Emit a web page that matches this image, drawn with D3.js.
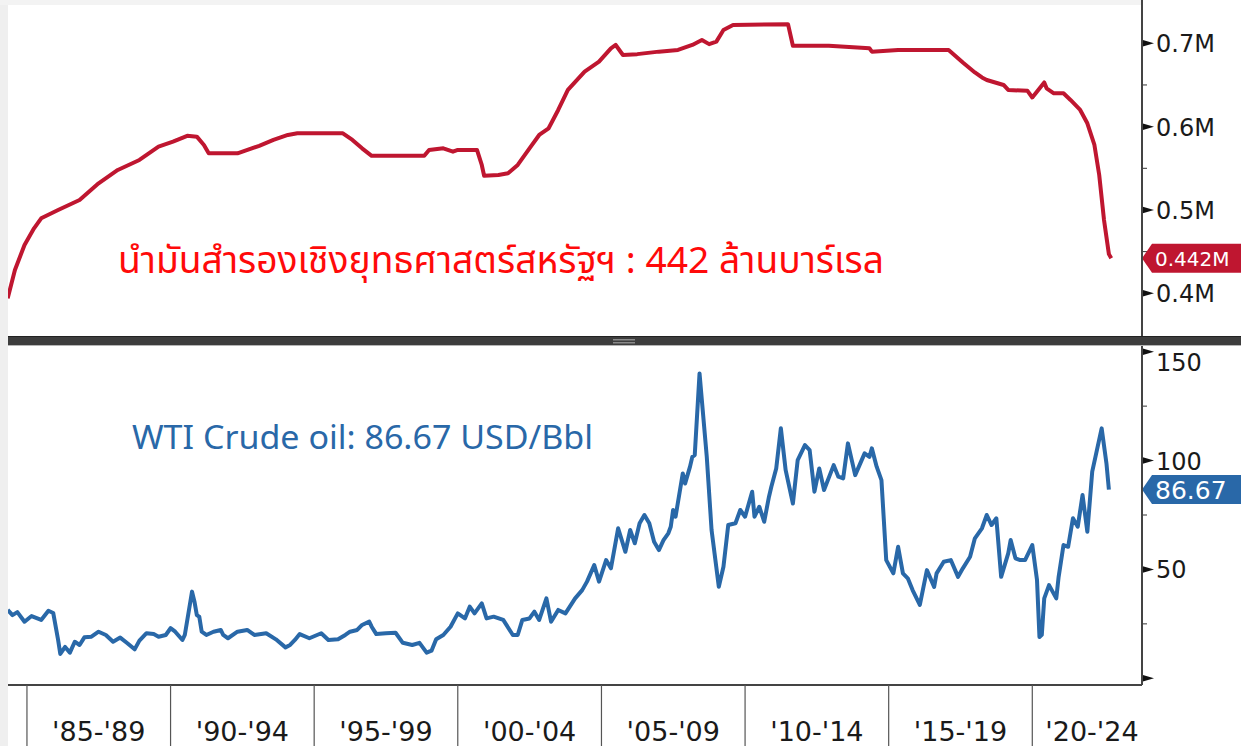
<!DOCTYPE html>
<html>
<head>
<meta charset="utf-8">
<script src="https://cdn.jsdelivr.net/npm/d3@7"></script>
<style>
  html, body { margin: 0; padding: 0; background: #fff; }
  svg { display: block; }
  .axis-label { font-family: "DejaVu Sans", Verdana, sans-serif; fill: #1a1a1a; }
</style>
</head>
<body>
<div id="chart"></div>
<script>
// US Strategic Petroleum Reserve, million barrels (monthly)
const sprDates = ["1984-05","1984-08","1984-12","1985-04","1985-07","1986-02","1986-11","1987-07","1988-03","1988-12",
  "1989-08","1990-02","1990-08","1990-12","1991-03","1991-05","1992-05","1993-02","1993-08","1994-02",
  "1994-06","1996-01","1996-05","1996-09","1997-01","1998-11","1999-01","1999-07","1999-11","2000-01",
  "2000-09","2000-11","2000-12","2001-06","2001-10","2002-02","2002-07","2002-11","2003-03","2003-07",
  "2003-11","2004-06","2004-12","2005-05","2005-07","2005-10","2006-04","2007-01","2007-09","2008-03",
  "2008-07","2008-10","2009-01","2009-04","2009-08","2011-07","2011-09","2012-12","2014-05","2014-06",
  "2015-05","2017-02","2017-08","2018-01","2018-04","2018-06","2019-01","2019-03","2019-11","2020-01",
  "2020-06","2020-07","2020-10","2021-02","2021-05","2021-09","2021-12","2022-03","2022-05","2022-07",
  "2022-09","2022-10"]
const sprValues = [394,428,458,478,490,500,512,532,548,560,
  576,582,589,588,578,568,568,577,584,590,
  592,592,584,574,565,565,572,574,570,572,
  572,554,541,542,544,554,574,590,598,620,
  644,666,678,694,698,686,687,690,692,698,
  704,699,702,716,722,723,697,697,694,690,
  692,692,677,665,659,656,650,644,643,635,
  653,646,640,640,632,620,604,578,542,488,
  447,442]

// WTI crude, USD per barrel
const wtiDates = ["1984-05","1984-07","1984-09","1984-12","1985-03","1985-07","1985-10","1985-12","1986-02","1986-03",
  "1986-05","1986-07","1986-09","1986-11","1987-01","1987-04","1987-07","1987-10","1988-01","1988-04",
  "1988-07","1988-10","1988-12","1989-03","1989-06","1989-08","1989-11","1990-01","1990-03","1990-06",
  "1990-07","1990-10","1990-11","1990-12","1991-01","1991-02","1991-04","1991-07","1991-10","1991-11",
  "1992-01","1992-05","1992-09","1992-12","1993-05","1993-09","1994-01","1994-03","1994-05","1994-07",
  "1994-11","1995-04","1995-07","1995-11","1996-02","1996-04","1996-07","1996-09","1996-12","1997-01",
  "1997-03","1997-07","1997-11","1998-02","1998-06","1998-09","1998-12","1999-02","1999-04","1999-07",
  "1999-10","2000-01","2000-04","2000-06","2000-08","2000-11","2001-01","2001-04","2001-08","2001-12",
  "2002-02","2002-04","2002-07","2002-09","2002-11","2003-02","2003-04","2003-07","2003-10","2004-02",
  "2004-05","2004-07","2004-10","2004-12","2005-03","2005-05","2005-08","2005-11","2006-01","2006-03",
  "2006-05","2006-07","2006-09","2006-11","2007-01","2007-03","2007-05","2007-06","2007-07","2007-08",
  "2007-11","2007-12","2008-02","2008-03","2008-04","2008-06","2008-09","2008-11","2009-02","2009-04",
  "2009-06","2009-09","2009-11","2010-01","2010-04","2010-05","2010-07","2010-09","2010-11","2010-12",
  "2011-02","2011-04","2011-06","2011-09","2011-11","2012-02","2012-04","2012-06","2012-08","2012-10",
  "2013-02","2013-04","2013-06","2013-08","2013-11","2014-03","2014-05","2014-06","2014-08","2014-10",
  "2014-12","2015-03","2015-05","2015-07","2015-09","2015-11","2016-02","2016-05","2016-08","2016-09",
  "2016-12","2017-03","2017-06","2017-08","2017-11","2018-01","2018-04","2018-06","2018-08","2018-10",
  "2018-12","2019-03","2019-04","2019-06","2019-08","2019-10","2020-01","2020-03","2020-04","2020-05",
  "2020-06","2020-08","2020-11","2020-12","2021-02","2021-04","2021-06","2021-08","2021-10","2021-12",
  "2022-02","2022-06","2022-08","2022-09"]
const wtiValues = [31.4,29,30.4,26,28.6,26.8,31,30,17.6,11.2,
  14.4,11.8,16.8,15.3,18.8,19.1,21.4,19.9,16.8,18.7,
  16.1,13.3,17.3,20.7,20.3,19.1,19.9,23,21.4,17.6,
  19.9,39.8,35.2,29,28.3,21.4,19.9,21.4,22.2,19.9,
  18.4,21.4,22.2,19.9,20.7,17.9,14.2,15.3,17.6,20.3,
  18.4,20.7,17.6,17.9,19.9,21.4,22.2,24.5,26,23.7,
  20.3,20.7,20.9,16.3,15.3,16.3,11.8,12.7,17.9,19.9,
  23.7,29.8,27.5,32.9,29.8,34.4,27.5,28.3,26.8,19.9,
  19.9,26.8,27.5,30.6,26.8,36.7,26,31.4,29.8,36.7,
  40.5,44.4,52,44.4,54.3,50.5,68.9,58.1,68.1,62,
  71.2,75,71.2,62.7,58.9,63.5,66.6,69.6,77.3,74.2,
  94.1,89.5,97.2,101.7,102.5,140,101.7,68.1,42,51.2,
  70.4,71.2,77.3,74.2,85.7,74.2,78.8,71.9,83.4,88,
  96.4,114.8,95.6,80.3,100.2,107.1,104.8,85.7,96.4,86.5,
  97.9,92.6,91.8,107.9,93.3,103.3,101.7,105.6,97.2,91,
  54.3,48.2,60.4,48.2,45.9,40.5,33.7,49.7,42,48.2,
  53.5,54.3,46.6,50.5,55.8,64.3,68.9,75,70.4,73.5,
  46.6,57.4,63.5,55.1,54.3,54.3,61.2,45.1,19,20,
  36.7,42.8,36.7,46.6,61.2,60.4,73.5,69.6,84.2,67.3,
  94.9,114.8,98.7,86.67]

// Axis ticks and labels
const periodYears = [1985, 1990, 1995, 2000, 2005, 2010, 2015, 2020, 2025]
const periodLabels = ["'85-'89", "'90-'94", "'95-'99", "'00-'04", "'05-'09", "'10-'14", "'15-'19", "'20-'24"]
const sprTicks = [400, 500, 600, 700]
const sprMinorTicks = [450, 550, 650]
const wtiTicks = [0, 50, 100, 150]
const wtiMinorTicks = [25, 75, 125]

const sprTitle = "นำมันสำรองเชิงยุทธศาสตร์สหรัฐฯ : 442 ล้านบาร์เรล"
const wtiTitle = "WTI Crude oil: 86.67 USD/Bbl"

// Layout
const W = 1241, H = 746
const plotLeft = 8, plotRight = 1142
const topPanel = { top: 5, bottom: 336 }
const divider = { top: 336, bottom: 345 }
const botPanel = { top: 345, bottom: 685 }
const red = "#bf1630", blue = "#2968a8"

const parse = d3.timeParse("%Y-%m")
const spr = sprDates.map((d, i) => ({ date: parse(d), value: sprValues[i] }))
const wti = wtiDates.map((d, i) => ({ date: parse(d), value: wtiValues[i] }))

const x = d3.scaleTime()
  .domain([new Date(1984, 4, 5), new Date(2023, 9, 27)])
  .range([plotLeft, plotRight])

const ySpr = d3.scaleLinear().domain([400, 700]).range([293.3, 43.3])
const yWti = d3.scaleLinear().domain([0, 150]).range([678.3, 351.7])

const svg = d3.select("#chart").append("svg")
  .attr("width", W)
  .attr("height", H)

// Frame background: light strip on left and top
svg.append("rect").attr("width", W).attr("height", H).attr("fill", "#fff")
svg.append("rect").attr("x", 0).attr("y", 0).attr("width", plotLeft).attr("height", H).attr("fill", "#efefef")
svg.append("rect").attr("x", 0).attr("y", 0).attr("width", plotRight).attr("height", topPanel.top).attr("fill", "#f3f3f3")

// Clip paths for the two panels
const defs = svg.append("defs")
defs.append("clipPath").attr("id", "clipTop").append("rect")
  .attr("x", plotLeft).attr("y", topPanel.top)
  .attr("width", plotRight - plotLeft).attr("height", topPanel.bottom - topPanel.top)
defs.append("clipPath").attr("id", "clipBot").append("rect")
  .attr("x", plotLeft).attr("y", botPanel.top)
  .attr("width", plotRight - plotLeft).attr("height", botPanel.bottom - botPanel.top)

// Annotation texts
svg.append("text")
  .attr("x", 118).attr("y", 273)
  .attr("font-family", "'Noto Sans Thai', 'Noto Sans Thai UI', Loma, Garuda, 'Noto Sans', sans-serif")
  .attr("font-size", 37)
  .attr("fill", "#ff0a0a")
  .attr("textLength", 766)
  .attr("lengthAdjust", "spacingAndGlyphs")
  .text(sprTitle)

svg.append("text")
  .attr("x", 132).attr("y", 449)
  .attr("font-family", "'Noto Sans', 'Open Sans', sans-serif")
  .attr("font-size", 33)
  .attr("fill", blue)
  .attr("textLength", 461)
  .attr("lengthAdjust", "spacingAndGlyphs")
  .text(wtiTitle)

// Lines
const line = yScale => d3.line()
  .x(d => x(d.date))
  .y(d => yScale(d.value))

svg.append("path")
  .datum(spr)
  .attr("clip-path", "url(#clipTop)")
  .attr("fill", "none")
  .attr("stroke", red)
  .attr("stroke-width", 4)
  .attr("stroke-linejoin", "round")
  .attr("d", line(ySpr))

svg.append("path")
  .datum(wti)
  .attr("clip-path", "url(#clipBot)")
  .attr("fill", "none")
  .attr("stroke", blue)
  .attr("stroke-width", 4)
  .attr("stroke-linejoin", "round")
  .attr("d", line(yWti))

// Right axes: arrow major ticks, small minor ticks
function rightAxis(scale, major, minor, fmt, minBaseline) {
  const g = svg.append("g")
  g.selectAll(".minor").data(minor).enter().append("line")
    .attr("x1", plotRight).attr("x2", plotRight + 5)
    .attr("y1", d => scale(d)).attr("y2", d => scale(d))
    .attr("stroke", "#333").attr("stroke-width", 1)
  g.selectAll(".major").data(major).enter().append("path")
    .attr("d", d => {
      const y = scale(d)
      return `M${plotRight},${y - 3.5}L${plotRight + 12},${y}L${plotRight},${y + 3.5}Z`
    })
    .attr("fill", "#111")
  g.selectAll("text").data(major.filter(d => fmt(d) !== "")).enter().append("text")
    .attr("class", "axis-label")
    .attr("x", plotRight + 14)
    .attr("y", d => Math.max(scale(d) + 9, minBaseline))
    .attr("font-size", 24)
    .text(fmt)
}

rightAxis(ySpr, sprTicks, sprMinorTicks, d => (d / 1000) + "M", topPanel.top + 24)
rightAxis(yWti, wtiTicks, wtiMinorTicks, d => d === 0 ? "" : d3.format("d")(d), botPanel.top + 26)

// Value tags
function tag(yPos, color, label) {
  const h = 14.5
  svg.append("path")
    .attr("d", `M${plotRight},${yPos}L${plotRight + 10},${yPos - h}L${W},${yPos - h}L${W},${yPos + h}L${plotRight + 10},${yPos + h}Z`)
    .attr("fill", color)
  const t = svg.append("text")
    .attr("class", "axis-label")
    .attr("x", plotRight + 13)
    .attr("y", yPos + 9)
    .attr("font-size", 25)
    .style("fill", "#fff")
    .text(label)
  // shrink the font if the label would run past the right edge
  const room = W - plotRight - 22
  const len = t.node().getComputedTextLength()
  if (len > room) {
    t.attr("font-size", Math.floor(25 * room / len)).attr("y", yPos + 8)
  }
}
tag(ySpr(sprValues[sprValues.length - 1]), red, "0.442M")
tag(yWti(wtiValues[wtiValues.length - 1]), blue, "86.67")

// Vertical axis line
svg.append("line")
  .attr("x1", plotRight).attr("x2", plotRight)
  .attr("y1", 0).attr("y2", botPanel.bottom)
  .attr("stroke", "#444").attr("stroke-width", 2)

// Divider between panels
svg.append("rect")
  .attr("x", plotLeft).attr("y", divider.top)
  .attr("width", W - plotLeft).attr("height", divider.bottom - divider.top)
  .attr("fill", "#3d3d3d")
svg.append("line")
  .attr("x1", plotLeft).attr("x2", W).attr("y1", divider.top + 0.5).attr("y2", divider.top + 0.5)
  .attr("stroke", "#222").attr("stroke-width", 1)
svg.append("line")
  .attr("x1", plotLeft).attr("x2", W).attr("y1", divider.bottom + 0.5).attr("y2", divider.bottom + 0.5)
  .attr("stroke", "#b5b5b5").attr("stroke-width", 1)
svg.append("rect")
  .attr("x", 613).attr("y", divider.top + 3).attr("width", 22).attr("height", 1.5).attr("fill", "#8a8a8a")
svg.append("rect")
  .attr("x", 613).attr("y", divider.top + 6).attr("width", 22).attr("height", 1.5).attr("fill", "#8a8a8a")

// Bottom time axis
const xAxis = svg.append("g")
xAxis.append("line")
  .attr("x1", plotLeft).attr("x2", plotRight)
  .attr("y1", botPanel.bottom).attr("y2", botPanel.bottom)
  .attr("stroke", "#444").attr("stroke-width", 2)

xAxis.selectAll(".tick").data(periodYears.filter(y => x(new Date(y, 0, 1)) < plotRight)).enter().append("line")
  .attr("x1", d => x(new Date(d, 0, 1))).attr("x2", d => x(new Date(d, 0, 1)))
  .attr("y1", botPanel.bottom).attr("y2", H)
  .attr("stroke", "#555").attr("stroke-width", 1.2)

xAxis.selectAll("text").data(periodLabels).enter().append("text")
  .attr("class", "axis-label")
  .attr("font-size", 27)
  .attr("text-anchor", "middle")
  .attr("y", 741)
  .attr("x", (d, i) => {
    const mid = (x(new Date(periodYears[i], 0, 1)) + x(new Date(periodYears[i + 1], 0, 1))) / 2
    return Math.min(mid, plotRight - 50)
  })
  .text(d => d)
</script>
</body>
</html>
